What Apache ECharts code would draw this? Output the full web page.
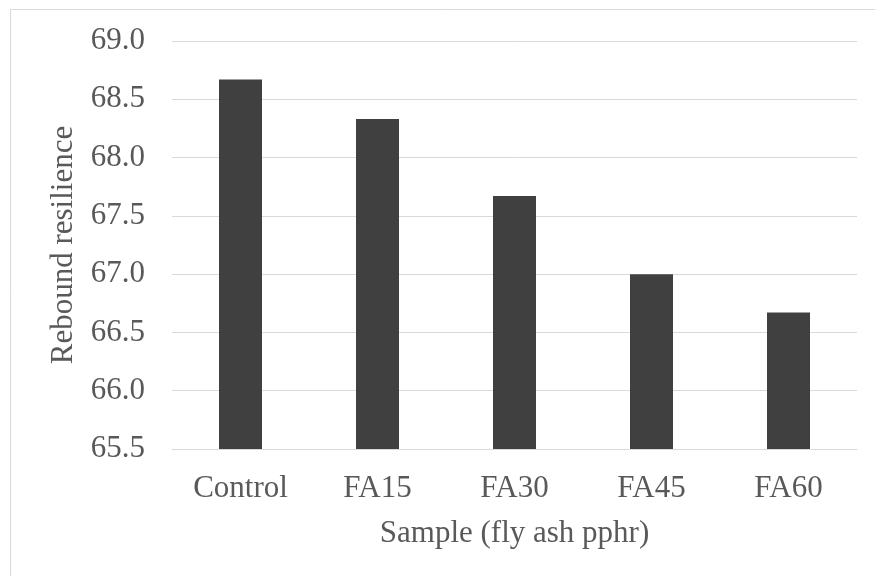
<!DOCTYPE html>
<html>
<head>
<meta charset="utf-8">
<script src="https://cdn.jsdelivr.net/npm/echarts@6/dist/echarts.min.js"></script>
<style>
  html, body { margin: 0; padding: 0; background: #ffffff; }
  #chart { width: 875px; height: 576px; }
</style>
</head>
<body>
<div id="chart"></div>
<script>
// Rebound resilience by fly ash loading
const categories = ['Control', 'FA15', 'FA30', 'FA45', 'FA60'];
const resilience = [68.67, 68.33, 67.67, 67.0, 66.67];
const yMin = 65.5, yMax = 69.0, yStep = 0.5;

const FONT = '"Liberation Serif", "Times New Roman", serif';
const TEXT = '#595959';
const GRID = '#d9d9d9';

const chart = echarts.init(document.getElementById('chart'));
chart.setOption({
  backgroundColor: '#ffffff',
  animation: false,
  graphic: [{
    type: 'rect',
    shape: { x: 10.5, y: 9.5, width: 1000, height: 1000 },
    style: { fill: 'none', stroke: GRID, lineWidth: 1 },
    z: -1
  }],
  grid: { left: 172, right: 18, top: 41, bottom: 127 },
  xAxis: {
    type: 'category',
    data: categories,
    name: 'Sample (fly ash pphr)',
    nameLocation: 'middle',
    nameGap: 69,
    nameTextStyle: { fontFamily: FONT, fontSize: 31, color: TEXT },
    axisLine: { lineStyle: { color: GRID, width: 1 } },
    axisTick: { show: false },
    axisLabel: { fontFamily: FONT, fontSize: 31, color: TEXT, margin: 24 }
  },
  yAxis: {
    type: 'value',
    min: yMin, max: yMax, interval: yStep,
    name: 'Rebound resilience',
    nameLocation: 'middle',
    nameGap: 93,
    nameTextStyle: { fontFamily: FONT, fontSize: 31, color: TEXT },
    axisLine: { show: false },
    axisTick: { show: false },
    splitLine: { lineStyle: { color: GRID, width: 1 } },
    axisLabel: {
      fontFamily: FONT, fontSize: 31, color: TEXT, margin: 27,
      formatter: v => v.toFixed(1)
    }
  },
  series: [{
    type: 'bar',
    data: resilience,
    barWidth: 43,
    itemStyle: { color: '#404040' }
  }]
});
</script>
</body>
</html>
